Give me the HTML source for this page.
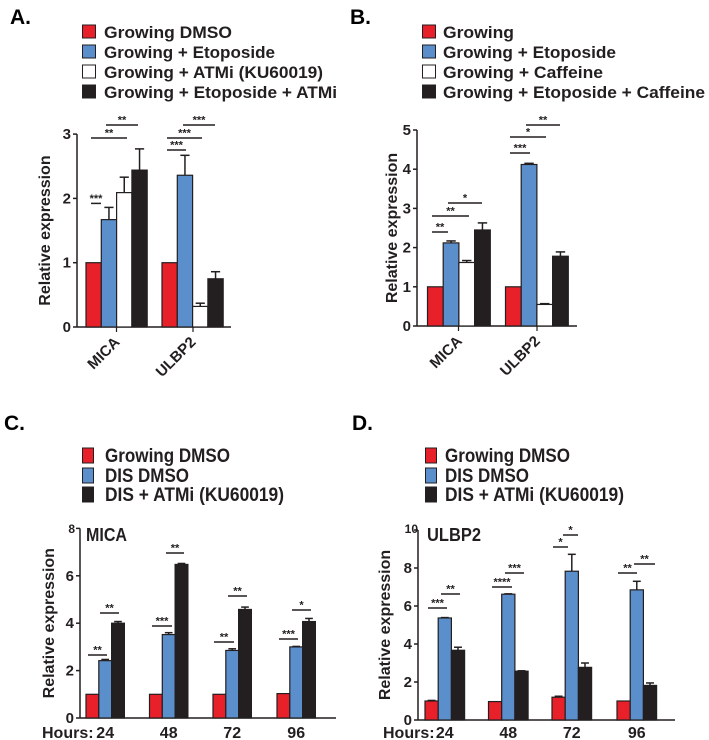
<!DOCTYPE html>
<html><head><meta charset="utf-8">
<style>
html,body{margin:0;padding:0;background:#fff;}
svg{display:block;font-family:"Liberation Sans",Arial,sans-serif;}
.lg{font-weight:bold;font-size:17px;fill:#231f20;}
.lgn{font-weight:bold;font-size:19px;fill:#231f20;}
.pl{font-weight:bold;font-size:21px;fill:#000;}
.tk{font-weight:bold;font-size:15px;fill:#231f20;}
.yt{font-weight:bold;font-size:16px;fill:#231f20;}
.st{font-size:11px;font-weight:bold;fill:#231f20;}
</style></head>
<body>
<svg id="fig" width="709" height="740" viewBox="0 0 709 740" xmlns="http://www.w3.org/2000/svg">
<g>
<text class="pl" x="10" y="24">A.</text>
<rect x="82.5" y="25" width="13" height="13" fill="#e8202a" stroke="#231f20"/>
<text class="lg" x="104" y="38" textLength="128" lengthAdjust="spacingAndGlyphs">Growing DMSO</text>
<rect x="82.5" y="45" width="13" height="13" fill="#5b8fcb" stroke="#231f20"/>
<text class="lg" x="104" y="58" textLength="171" lengthAdjust="spacingAndGlyphs">Growing + Etoposide</text>
<rect x="82.5" y="65" width="13" height="13" fill="#fff" stroke="#231f20"/>
<text class="lg" x="104" y="78" textLength="219" lengthAdjust="spacingAndGlyphs">Growing + ATMi (KU60019)</text>
<rect x="82.5" y="85" width="13" height="13" fill="#231f20" stroke="#231f20"/>
<text class="lg" x="104" y="98" textLength="233" lengthAdjust="spacingAndGlyphs">Growing + Etoposide + ATMi</text>
</g>
<g>
<text class="pl" x="350" y="24">B.</text>
<rect x="422.5" y="25" width="13" height="13" fill="#e8202a" stroke="#231f20"/>
<text class="lg" x="443" y="38" textLength="71" lengthAdjust="spacingAndGlyphs">Growing</text>
<rect x="422.5" y="45" width="13" height="13" fill="#5b8fcb" stroke="#231f20"/>
<text class="lg" x="443" y="58" textLength="173" lengthAdjust="spacingAndGlyphs">Growing + Etoposide</text>
<rect x="422.5" y="65" width="13" height="13" fill="#fff" stroke="#231f20"/>
<text class="lg" x="443" y="78" textLength="160" lengthAdjust="spacingAndGlyphs">Growing + Caffeine</text>
<rect x="422.5" y="85" width="13" height="13" fill="#231f20" stroke="#231f20"/>
<text class="lg" x="443" y="98" textLength="262" lengthAdjust="spacingAndGlyphs">Growing + Etoposide + Caffeine</text>
</g>
<g>
<text class="pl" x="4" y="430">C.</text>
<rect x="82.5" y="448" width="11" height="15" fill="#e8202a" stroke="#231f20"/>
<text class="lgn" x="105" y="462" textLength="125" lengthAdjust="spacingAndGlyphs">Growing DMSO</text>
<rect x="82.5" y="468" width="11" height="15" fill="#5b8fcb" stroke="#231f20"/>
<text class="lgn" x="105" y="482" textLength="84" lengthAdjust="spacingAndGlyphs">DIS DMSO</text>
<rect x="82.5" y="487" width="11" height="15" fill="#231f20" stroke="#231f20"/>
<text class="lgn" x="105" y="501" textLength="179" lengthAdjust="spacingAndGlyphs">DIS + ATMi (KU60019)</text>
</g>
<g>
<text class="pl" x="352" y="430">D.</text>
<rect x="425.5" y="448" width="11" height="15" fill="#e8202a" stroke="#231f20"/>
<text class="lgn" x="445" y="462" textLength="125" lengthAdjust="spacingAndGlyphs">Growing DMSO</text>
<rect x="425.5" y="468" width="11" height="15" fill="#5b8fcb" stroke="#231f20"/>
<text class="lgn" x="445" y="482" textLength="84" lengthAdjust="spacingAndGlyphs">DIS DMSO</text>
<rect x="425.5" y="487" width="11" height="15" fill="#231f20" stroke="#231f20"/>
<text class="lgn" x="445" y="501" textLength="179" lengthAdjust="spacingAndGlyphs">DIS + ATMi (KU60019)</text>
</g>
</svg>
<script>
// Panel A data
const aCategories = ["MICA", "ULBP2"];
const aGrowing = [1, 1];
const aEtoposide = [1.67, 2.36];
const aAtmi = [2.09, 0.32];
const aEtoAtmi = [2.44, 0.75];
const aEtoposideErr = [0.19, 0.31];
const aAtmiErr = [0.24, 0.05];
const aEtoAtmiErr = [0.33, 0.11];
const aTicks = [0, 1, 2, 3];
// Panel B data
const bCategories = ["MICA", "ULBP2"];
const bGrowing = [1, 1];
const bEtoposide = [2.12, 4.12];
const bCaffeine = [1.62, 0.55];
const bEtoCaffeine = [2.45, 1.78];
const bEtoposideErr = [0.05, 0.03];
const bCaffeineErr = [0.05, 0.02];
const bEtoCaffeineErr = [0.18, 0.11];
const bTicks = [0, 1, 2, 3, 4, 5];
// Panel C data (MICA)
const cHours = ["24", "48", "72", "96"];
const cGrowing = [1, 1, 1, 1.03];
const cDis = [2.42, 3.52, 2.85, 3.0];
const cDisAtmi = [4.0, 6.48, 4.58, 4.07];
const cDisErr = [0.05, 0.08, 0.07, 0.02];
const cDisAtmiErr = [0.07, 0.04, 0.1, 0.13];
const cTicks = [0, 2, 4, 6, 8];
// Panel D data (ULBP2)
const dHours = ["24", "48", "72", "96"];
const dGrowing = [1, 0.97, 1.2, 1.0];
const dDis = [5.37, 6.62, 7.83, 6.85];
const dDisAtmi = [3.67, 2.57, 2.77, 1.82];
const dGrowingErr = [0.03, 0, 0.05, 0];
const dDisErr = [0.02, 0.02, 0.89, 0.45];
const dDisAtmiErr = [0.16, 0.02, 0.23, 0.13];
const dTicks = [0, 2, 4, 6, 8, 10];

const NS = "http://www.w3.org/2000/svg";
const fig = document.getElementById('fig');
const RED = "#e8202a", BLUE = "#5b8fcb", WHITE = "#ffffff", BLACK = "#231f20";
function mk(tag, attrs, parent) {
  const e = document.createElementNS(NS, tag);
  for (const k in attrs) e.setAttribute(k, attrs[k]);
  (parent || fig).appendChild(e);
  return e;
}
function yScale(y0, pxPerUnit) { return v => y0 - v * pxPerUnit; }

function drawAxes(g, ax, y0, xEnd, ys, ticks, tickTexts, yTitle, titleX, catTickXs) {
  const l1 = mk('line', {x1: ax, y1: ys(ticks[ticks.length - 1]), x2: ax, y2: y0, stroke: BLACK, 'stroke-width': 1.5}, g);
  
  
  const l2 = mk('line', {x1: ax, y1: y0, x2: xEnd, y2: y0, stroke: BLACK, 'stroke-width': 1.5}, g);
  
  
  ticks.forEach((t, i) => {
    const y = ys(t);
    const tl = mk('line', {x1: ax - 4, y1: y, x2: ax, y2: y, stroke: BLACK, 'stroke-width': 1.5}, g);
    
    
    const tx = mk('text', {x: ax - 6, y: y + 5, 'text-anchor': 'end', class: 'tk'}, g);
    tx.textContent = tickTexts[i];
    
    
  });
  (catTickXs || []).forEach(x => {
    const tl = mk('line', {x1: x, y1: y0, x2: x, y2: y0 + 5, stroke: BLACK, 'stroke-width': 1.2}, g);
    
    
  });
  const midY = (ys(ticks[ticks.length - 1]) + y0) / 2;
  const yt = mk('text', {x: titleX, y: midY, 'text-anchor': 'middle', class: 'yt', transform: `rotate(-90 ${titleX} ${midY})`}, g);
  yt.textContent = yTitle;
  
  
}

function drawBar(g, x, w, ys, y0, v, err, fill, name) {
  const top = ys(v);
  if (err > 0) {
    const ey = ys(v + err);
    const cx = x + w / 2;
    const el = mk('line', {x1: cx, y1: top, x2: cx, y2: ey, stroke: BLACK, 'stroke-width': 1.5}, g);
    
    
    const cap = mk('line', {x1: cx - w * 0.3, y1: ey, x2: cx + w * 0.3, y2: ey, stroke: BLACK, 'stroke-width': 1.5}, g);
    
    
  }
  const r = mk('rect', {x: x, y: top, width: w, height: y0 - top, fill: fill, stroke: BLACK, 'stroke-width': 1.2}, g);
  
  
}

function sig(g, x1, x2, y, label) {
  const l = mk('line', {x1: x1, y1: y, x2: x2, y2: y, stroke: BLACK, 'stroke-width': 1.5}, g);
  
  
  const t = mk('text', {x: (x1 + x2) / 2, y: y - 1.5, 'text-anchor': 'middle', class: 'st'}, g);
  t.textContent = label;
  
  
}

// ---------- Panel A ----------
(function () {
  const g = mk('g', {});
  
  
  const y0 = 327, ys = yScale(y0, 64.3);
  const groupX = [86, 162], bw = 15.3;
  const series = [[aGrowing, null, RED], [aEtoposide, aEtoposideErr, BLUE], [aAtmi, aAtmiErr, WHITE], [aEtoAtmi, aEtoAtmiErr, BLACK]];
  drawAxes(g, 77, y0, 231, ys, aTicks, aTicks.map(String), 'Relative expression', 50, [116.5, 193]);
  aCategories.forEach((c, i) => {
    series.forEach((s, j) => drawBar(g, groupX[i] + j * bw, bw, ys, y0, s[0][i], s[1] ? s[1][i] : 0, s[2], 'bar-a-' + c.toLowerCase() + '-' + j));
    const cx = groupX[i] + 2 * bw;
    const t = mk('text', {x: cx + 4, y: y0 + 16, 'text-anchor': 'end', class: 'tk', transform: `rotate(-45 ${cx + 4} ${y0 + 16})`}, g);
    t.textContent = c;
    
    
  });
  sig(g, 91, 101, ys(aEtoposide[0] + aEtoposideErr[0]) - 4, '***');
  sig(g, 91, 127, 138, '**');
  sig(g, 106, 138, 125, '**');
  sig(g, 167, 186, 150, '***');
  sig(g, 167, 202, 138, '***');
  sig(g, 183, 215, 125, '***');
})();

// ---------- Panel B ----------
(function () {
  const g = mk('g', {});
  
  
  const y0 = 326, ys = yScale(y0, 39.2);
  const groupX = [427.5, 505.5], bw = 15.7;
  const series = [[bGrowing, null, RED], [bEtoposide, bEtoposideErr, BLUE], [bCaffeine, bCaffeineErr, WHITE], [bEtoCaffeine, bEtoCaffeineErr, BLACK]];
  drawAxes(g, 417, y0, 577, ys, bTicks, bTicks.map(String), 'Relative expression', 397, [458.5, 537]);
  bCategories.forEach((c, i) => {
    series.forEach((s, j) => drawBar(g, groupX[i] + j * bw, bw, ys, y0, s[0][i], s[1] ? s[1][i] : 0, s[2], 'bar-b-' + c.toLowerCase() + '-' + j));
    const cx = groupX[i] + 2 * bw;
    const t = mk('text', {x: cx + 4, y: y0 + 16, 'text-anchor': 'end', class: 'tk', transform: `rotate(-45 ${cx + 4} ${y0 + 16})`}, g);
    t.textContent = c;
    
    
  });
  sig(g, 432, 448, 232, '**');
  sig(g, 432, 469, 216, '**');
  sig(g, 448, 482, 203, '*');
  sig(g, 510, 530, 153, '***');
  sig(g, 510, 546, 137, '*');
  sig(g, 526, 560, 125, '**');
})();

// ---------- Panel C ----------
(function () {
  const g = mk('g', {});
  
  
  const y0 = 718, ys = yScale(y0, 23.7);
  const groupX = [86, 149.5, 213, 277], bw = 12.8;
  const series = [[cGrowing, null, RED], [cDis, cDisErr, BLUE], [cDisAtmi, cDisAtmiErr, BLACK]];
  drawAxes(g, 80, y0, 336, ys, cTicks, ['0', '2', '4', '6', ''], 'Relative expression', 54, []);
  const t8 = mk('text', {x: 75, y: 533, 'text-anchor': 'end', style: 'font-weight:bold;font-size:12px;fill:#231f20'}, g);
  t8.textContent = '8';
  
  
  const tt = mk('text', {x: 86, y: 541, class: 'lgn', style: 'font-size:18px', textLength: 41, lengthAdjust: 'spacingAndGlyphs'}, g);
  tt.textContent = 'MICA';
  
  
  const hl = mk('text', {x: 42, y: 738, class: 'tk', style: 'font-size:16px'}, g);
  hl.textContent = 'Hours:';
  
  
  cHours.forEach((h, i) => {
    series.forEach((s, j) => drawBar(g, groupX[i] + j * bw, bw, ys, y0, s[0][i], s[1] ? s[1][i] : 0, s[2], 'bar-c-' + h + 'h-' + j));
    const t = mk('text', {x: groupX[i] + 1.5 * bw, y: 738, 'text-anchor': 'middle', class: 'tk', style: 'font-size:16px'}, g);
    t.textContent = h;
    
    
  });
  sig(g, 88, 107, 655, '**');
  sig(g, 100, 119, 613, '**');
  sig(g, 152, 172, 626, '***');
  sig(g, 166, 184, 553, '**');
  sig(g, 214, 234, 642, '**');
  sig(g, 228, 247, 596, '**');
  sig(g, 279, 298, 639, '***');
  sig(g, 292, 311, 610, '*');
})();

// ---------- Panel D ----------
(function () {
  const g = mk('g', {});
  
  
  const y0 = 720, ys = yScale(y0, 19);
  const groupX = [425, 488.5, 552, 617], bw = 13.2;
  const series = [[dGrowing, dGrowingErr, RED], [dDis, dDisErr, BLUE], [dDisAtmi, dDisAtmiErr, BLACK]];
  drawAxes(g, 418, y0, 675, ys, dTicks, ['0', '2', '4', '6', '8', ''], 'Relative expression', 390, []);
  const t10 = mk('text', {x: 418, y: 533, 'text-anchor': 'end', style: 'font-weight:bold;font-size:12px;fill:#231f20'}, g);
  t10.textContent = '10';
  
  
  const tt = mk('text', {x: 427, y: 541, class: 'lgn', style: 'font-size:18px', textLength: 54, lengthAdjust: 'spacingAndGlyphs'}, g);
  tt.textContent = 'ULBP2';
  
  
  const hl = mk('text', {x: 383, y: 738, class: 'tk', style: 'font-size:16px'}, g);
  hl.textContent = 'Hours:';
  
  
  dHours.forEach((h, i) => {
    series.forEach((s, j) => drawBar(g, groupX[i] + j * bw, bw, ys, y0, s[0][i], s[1] ? s[1][i] : 0, s[2], 'bar-d-' + h + 'h-' + j));
    const t = mk('text', {x: groupX[i] + 1.5 * bw, y: 738, 'text-anchor': 'middle', class: 'tk', style: 'font-size:16px'}, g);
    t.textContent = h;
    
    
  });
  sig(g, 428, 447, 608, '***');
  sig(g, 441, 460, 594, '**');
  sig(g, 492, 512, 587, '****');
  sig(g, 505, 524, 573, '***');
  sig(g, 553, 568, 547, '*');
  sig(g, 563, 578, 535, '*');
  sig(g, 618, 637, 573, '**');
  sig(g, 634, 655, 564, '**');
})();
</script>
</body></html>
